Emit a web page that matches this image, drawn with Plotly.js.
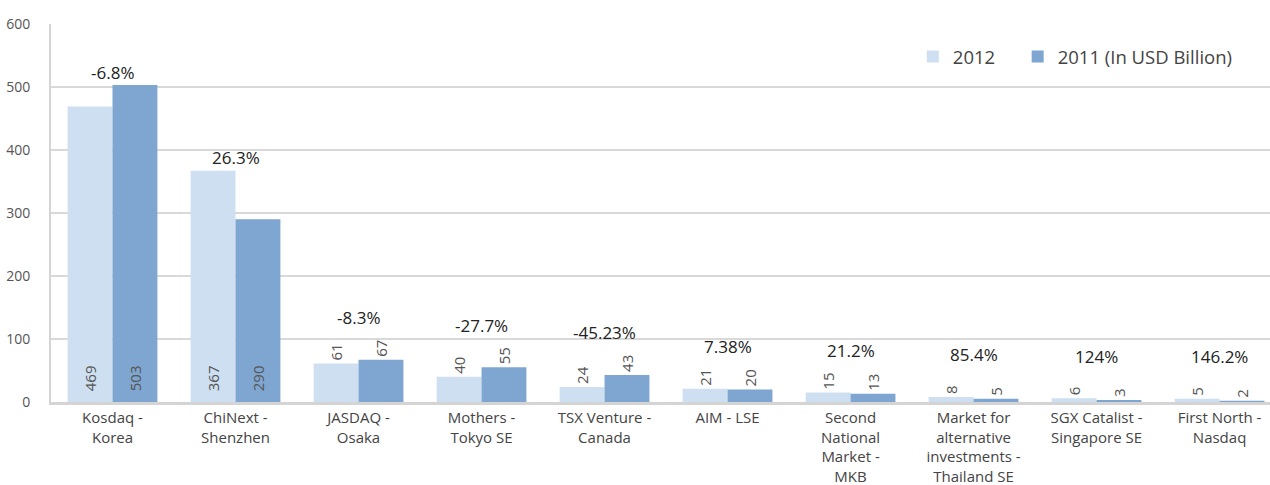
<!DOCTYPE html>
<html>
<head>
<meta charset="utf-8">
<script src="https://cdn.plot.ly/plotly-3.0.1.min.js"></script>
<style>
  html, body { margin: 0; padding: 0; background: #fff; }
  #chart { width: 1270px; height: 485px; }
</style>
</head>
<body>
<div id="chart"></div>
<script>
// Market capitalisation of growth/SME exchanges, USD billion
const categories = [
  "Kosdaq -<br>Korea",
  "ChiNext -<br>Shenzhen",
  "JASDAQ -<br>Osaka",
  "Mothers -<br>Tokyo SE",
  "TSX Venture -<br>Canada",
  "AIM - LSE",
  "Second<br>National<br>Market -<br>MKB",
  "Market for<br>alternative<br>investments -<br>Thailand SE",
  "SGX Catalist -<br>Singapore SE",
  "First North -<br>Nasdaq"
];
const values2012 = [469, 367, 61, 40, 24, 21, 15, 8, 6, 5];
const values2011 = [503, 290, 67, 55, 43, 20, 13, 5, 3, 2];
const changeLabels = ["-6.8%", "26.3%", "-8.3%", "-27.7%", "-45.23%", "7.38%", "21.2%", "85.4%", "124%", "146.2%"];

const FONT = "'Open Sans', 'Noto Sans', sans-serif";
const LIGHT = "#cddff0";
const DARK = "#7fa6d0";

// Tall bars carry their value inside at the base; short bars carry it above
const labelPos = v => (v > 150 ? "inside" : "outside");

const valueFont = { family: FONT, size: 15, color: "#555555" };

function barTrace(name, values, color, legendRef) {
  return {
    type: "bar",
    name: name,
    legend: legendRef,
    x: categories,
    y: values,
    marker: { color: color },
    // a little breathing room between the base and an inside label
    text: values.map(v => (labelPos(v) === "inside" ? "\u00a0\u00a0" + v : String(v))),
    textposition: values.map(labelPos),
    insidetextanchor: "start",
    textangle: -90,
    textfont: valueFont,
    insidetextfont: valueFont,
    outsidetextfont: valueFont,
    cliponaxis: false,
    hoverinfo: "skip"
  };
}

const trace2012 = barTrace("2012", values2012, LIGHT, "legend");
const trace2011 = barTrace("2011 (In USD Billion)", values2011, DARK, "legend2");

// Year-on-year change, placed above the taller bar of each group
const changeAnnotations = categories.map((c, i) => {
  const top = Math.max(values2012[i], values2011[i]);
  const outside = labelPos(values2012[i]) === "outside";
  return {
    x: c,
    y: top,
    xref: "x",
    yref: "y",
    text: changeLabels[i],
    showarrow: false,
    yanchor: "middle",
    yshift: outside ? 42 : 13,
    font: { family: FONT, size: 17, color: "#222222" }
  };
});

const legendBase = {
  orientation: "h",
  xanchor: "left",
  y: 0.913,
  yanchor: "middle",
  font: { family: FONT, size: 18.5, color: "#444444" },
  bgcolor: "rgba(0,0,0,0)"
};

const layout = {
  width: 1270,
  height: 485,
  margin: { l: 51, r: 0, t: 24, b: 83 },
  paper_bgcolor: "#ffffff",
  plot_bgcolor: "#ffffff",
  barmode: "group",
  bargap: 0.27,
  bargroupgap: 0,
  showlegend: true,
  legend: Object.assign({}, legendBase, { x: 0.707 }),
  legend2: Object.assign({}, legendBase, { x: 0.793 }),
  xaxis: {
    type: "category",
    range: [-0.5, 9.41],
    tickfont: { family: FONT, size: 15, color: "#444444" },
    showline: true,
    linecolor: "#d4d4d4",
    linewidth: 3,
    ticks: "",
    showgrid: false,
    automargin: false
  },
  yaxis: {
    range: [0, 600],
    dtick: 100,
    tickfont: { family: FONT, size: 14, color: "#555555" },
    showline: true,
    linecolor: "#d4d4d4",
    linewidth: 2,
    showgrid: true,
    gridcolor: "#d9d9d9",
    gridwidth: 2,
    zeroline: false,
    ticks: "",
    ticklabelstandoff: 16,
    automargin: false
  },
  annotations: changeAnnotations
};

Plotly.newPlot("chart", [trace2012, trace2011], layout, { displayModeBar: false, staticPlot: true });
</script>
</body>
</html>
